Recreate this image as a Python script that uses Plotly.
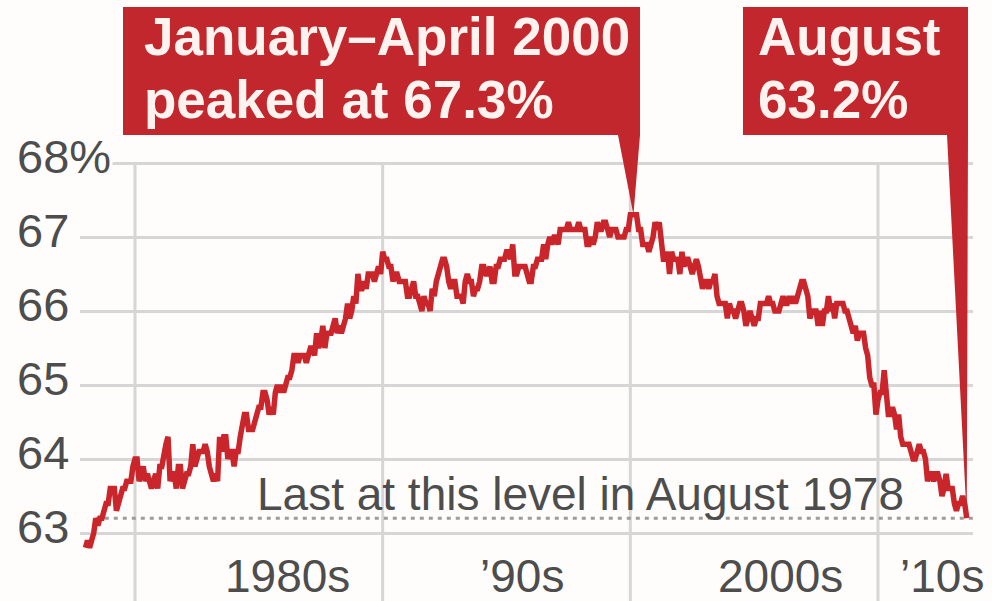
import numpy as np
import plotly.graph_objects as go

# Civilian labor force participation rate, monthly, seasonally adjusted (%)
years = list(range(1978, 2014))
rate_by_year = {
    1978: [62.8, 62.9, 62.8, 62.9, 63.0, 63.2, 63.1, 63.2, 63.2, 63.3, 63.4, 63.4],
    1979: [63.6, 63.6, 63.6, 63.3, 63.4, 63.5, 63.6, 63.6, 63.7, 63.7, 63.7, 63.9],
    1980: [64.0, 64.0, 63.7, 63.8, 63.9, 63.7, 63.8, 63.7, 63.6, 63.7, 63.8, 63.6],
    1981: [63.9, 63.9, 64.1, 64.2, 64.3, 63.7, 63.8, 63.8, 63.6, 63.9, 63.9, 63.6],
    1982: [63.7, 63.8, 63.8, 63.9, 64.2, 63.9, 64.0, 64.1, 64.1, 64.1, 64.2, 64.1],
    1983: [63.9, 63.8, 63.7, 63.8, 63.7, 64.3, 64.1, 64.3, 64.3, 64.0, 64.1, 64.1],
    1984: [63.9, 64.1, 64.1, 64.3, 64.5, 64.6, 64.6, 64.4, 64.4, 64.4, 64.5, 64.6],
    1985: [64.7, 64.7, 64.9, 64.9, 64.8, 64.6, 64.7, 64.6, 64.9, 65.0, 64.9, 65.0],
    1986: [64.9, 65.0, 65.1, 65.1, 65.2, 65.4, 65.4, 65.3, 65.4, 65.4, 65.4, 65.3],
    1987: [65.4, 65.5, 65.5, 65.4, 65.7, 65.5, 65.6, 65.8, 65.5, 65.7, 65.7, 65.7],
    1988: [65.8, 65.9, 65.7, 65.8, 65.7, 65.8, 65.9, 66.1, 65.9, 66.0, 66.2, 66.1],
    1989: [66.5, 66.3, 66.3, 66.4, 66.3, 66.5, 66.5, 66.5, 66.4, 66.5, 66.6, 66.5],
    1990: [66.8, 66.7, 66.7, 66.6, 66.6, 66.4, 66.5, 66.5, 66.4, 66.4, 66.4, 66.4],
    1991: [66.2, 66.2, 66.3, 66.4, 66.2, 66.2, 66.1, 66.0, 66.2, 66.1, 66.1, 66.0],
    1992: [66.3, 66.2, 66.4, 66.5, 66.6, 66.7, 66.7, 66.6, 66.4, 66.3, 66.4, 66.4],
    1993: [66.2, 66.2, 66.2, 66.1, 66.4, 66.5, 66.4, 66.4, 66.2, 66.3, 66.3, 66.4],
    1994: [66.6, 66.6, 66.5, 66.5, 66.6, 66.4, 66.4, 66.6, 66.6, 66.7, 66.7, 66.7],
    1995: [66.8, 66.8, 66.7, 66.9, 66.5, 66.5, 66.6, 66.6, 66.6, 66.6, 66.5, 66.4],
    1996: [66.4, 66.6, 66.6, 66.7, 66.7, 66.7, 66.9, 66.7, 66.9, 67.0, 66.9, 67.0],
    1997: [67.0, 66.9, 67.1, 67.1, 67.1, 67.1, 67.2, 67.1, 67.1, 67.1, 67.1, 67.2],
    1998: [67.1, 67.1, 67.1, 66.9, 66.9, 67.0, 66.9, 67.0, 67.2, 67.1, 67.1, 67.2],
    1999: [67.2, 67.1, 67.0, 67.1, 67.1, 67.1, 67.0, 67.0, 67.0, 67.0, 67.1, 67.1],
    2000: [67.3, 67.3, 67.3, 67.3, 67.1, 67.1, 66.9, 66.9, 66.9, 66.8, 66.9, 67.0],
    2001: [67.2, 67.1, 67.2, 66.9, 66.7, 66.7, 66.8, 66.5, 66.8, 66.7, 66.7, 66.7],
    2002: [66.5, 66.8, 66.6, 66.7, 66.7, 66.6, 66.5, 66.6, 66.7, 66.6, 66.4, 66.3],
    2003: [66.4, 66.4, 66.3, 66.4, 66.4, 66.5, 66.2, 66.1, 66.1, 66.1, 66.1, 65.9],
    2004: [66.1, 66.0, 66.0, 65.9, 66.0, 66.1, 66.1, 66.0, 65.8, 65.9, 66.0, 65.9],
    2005: [65.8, 65.9, 65.9, 66.1, 66.1, 66.1, 66.1, 66.2, 66.1, 66.1, 66.0, 66.0],
    2006: [66.0, 66.1, 66.2, 66.1, 66.1, 66.2, 66.1, 66.2, 66.1, 66.2, 66.3, 66.4],
    2007: [66.4, 66.3, 66.2, 65.9, 66.0, 66.0, 66.0, 65.8, 66.0, 65.8, 66.0, 66.0],
    2008: [66.2, 66.0, 66.1, 65.9, 66.1, 66.1, 66.1, 66.1, 66.0, 66.0, 65.9, 65.8],
    2009: [65.7, 65.8, 65.6, 65.7, 65.7, 65.7, 65.5, 65.4, 65.1, 65.0, 65.0, 64.6],
    2010: [64.8, 64.9, 64.9, 65.2, 64.9, 64.6, 64.6, 64.7, 64.6, 64.4, 64.6, 64.3],
    2011: [64.2, 64.2, 64.2, 64.2, 64.1, 64.0, 64.0, 64.1, 64.2, 64.1, 64.1, 64.0],
    2012: [63.7, 63.8, 63.8, 63.7, 63.8, 63.8, 63.7, 63.5, 63.6, 63.8, 63.6, 63.6],
    2013: [63.6, 63.4, 63.3, 63.4, 63.4, 63.5, 63.4, 63.2],
}

y_ticks = [63, 64, 65, 66, 67, 68]
y_tick_text = ["63", "64", "65", "66", "67", "68%"]
decade_lines = [1980, 1990, 2000, 2010]
decade_labels = ["1980s", "\u201990s", "2000s", "\u201910s"]

peak_text = ["January\u2013April 2000", "peaked at 67.3%"]
latest_text = ["August", "63.2%"]
floor_text = "Last at this level in August 1978"

# monthly series as fractional years
t = []
v = []
for yr in years:
    for m, val in enumerate(rate_by_year[yr]):
        t.append(yr + m / 12)
        v.append(val)
t = np.array(t)
v = np.array(v)

# ---- layout geometry (pixels on a 992 x 601 canvas) ----
W, H = 992, 601
PL, PR = 80, 973                 # plot area left/right


def xv(px):
    """canvas x pixel -> year value"""
    return 1980 + (px - 135) * 30 / (878 - 135)


def yv(py):
    """canvas y pixel -> percent value"""
    return 68 - (py - 163) / 74


def xpaper(px):
    """canvas x pixel -> paper fraction"""
    return (px - PL) / (PR - PL)


RED = "#c1272d"
LINE_RED = "#c9252b"
GRID = "#d6d6d6"
TEXT = "#4d4d4d"
BG = "#fffdfb"
FONT = "Liberation Sans, Arial, sans-serif"
BOX_TEXT = "#fff3ef"

fig = go.Figure()
fig.add_trace(go.Scatter(
    x=t, y=v, mode="lines",
    line=dict(color=LINE_RED, width=5.5, shape="linear"),
    hoverinfo="skip", showlegend=False,
))

shapes = []
# vertical decade gridlines
for d in decade_lines:
    shapes.append(dict(type="line", xref="x", yref="y", layer="below",
                       x0=d, x1=d, y0=yv(H), y1=68,
                       line=dict(color=GRID, width=3)))

# dotted reference at the latest level, from August 1978
ref_val = v[-1]
aug78 = t[int(np.argmax(v == ref_val))]
shapes.append(dict(type="line", xref="x", yref="y", layer="below",
                   x0=aug78, x1=xv(PR), y0=ref_val, y1=ref_val,
                   line=dict(color="#9c9c9c", width=3, dash="4px,5px")))

# callout: peak
peak_val = v.max()
peak_x = t[v == peak_val].mean()
b_top, b_bot = yv(7), yv(135)
path1 = (f"M {xv(123)},{b_top} L {xv(640)},{b_top} L {xv(640)},{b_bot} "
         f"L {peak_x},{peak_val} L {xv(618)},{b_bot} L {xv(123)},{b_bot} Z")
shapes.append(dict(type="path", xref="x", yref="y", layer="above",
                   path=path1, fillcolor=RED, line=dict(width=0)))

# callout: latest month
last_x, last_val = t[-1], v[-1]
path2 = (f"M {xv(743)},{b_top} L {xv(968)},{b_top} L {xv(968)},{b_bot} "
         f"L {last_x},{last_val} L {xv(947)},{b_bot} L {xv(743)},{b_bot} Z")
shapes.append(dict(type="path", xref="x", yref="y", layer="above",
                   path=path2, fillcolor=RED, line=dict(width=0)))

annotations = []
# y tick labels, left aligned in the margin
for val, txt in zip(y_ticks, y_tick_text):
    annotations.append(dict(x=xpaper(15), y=val, xref="paper", yref="y",
                            xanchor="left", yanchor="middle", yshift=7,
                            text=txt, showarrow=False, bgcolor=BG, borderpad=1,
                            font=dict(family=FONT, size=47, color=TEXT)))

# decade labels along the bottom
label_px = [287, 522, 780, 942]
for px, txt in zip(label_px, decade_labels):
    annotations.append(dict(x=xpaper(px), y=yv(575.5), xref="paper", yref="y",
                            xanchor="center", yanchor="middle",
                            text=txt, showarrow=False,
                            font=dict(family=FONT, size=46, color=TEXT)))

# floor note
annotations.append(dict(x=xpaper(255), y=yv(493.5), xref="paper", yref="y",
                        xanchor="left", yanchor="middle",
                        text=floor_text, showarrow=False,
                        font=dict(family=FONT, size=46, color=TEXT)))

# callout texts
for left_px, lines in ((142, peak_text), (756, latest_text)):
    for py, txt in zip((36.5, 99), lines):
        annotations.append(dict(x=xpaper(left_px), y=yv(py), xref="paper", yref="y",
                                xanchor="left", yanchor="middle",
                                text=txt, showarrow=False,
                                font=dict(family=FONT, size=53, color=BOX_TEXT,
                                          weight="bold")))

fig.update_layout(
    width=W, height=H, autosize=False,
    margin=dict(l=PL, r=W - PR, t=0, b=0, pad=0),
    paper_bgcolor=BG, plot_bgcolor=BG,
    showlegend=False,
    xaxis=dict(range=[xv(PL), xv(PR)], showgrid=False, zeroline=False,
               showticklabels=False, showline=False, ticks="", fixedrange=True),
    yaxis=dict(range=[yv(H), yv(0)], tickvals=y_ticks, showgrid=True,
               gridcolor=GRID, gridwidth=2.5, zeroline=False,
               showticklabels=False, showline=False, ticks="", fixedrange=True),
    shapes=shapes,
    annotations=annotations,
)

fig.write_html("out.html", config={"displayModeBar": False})
